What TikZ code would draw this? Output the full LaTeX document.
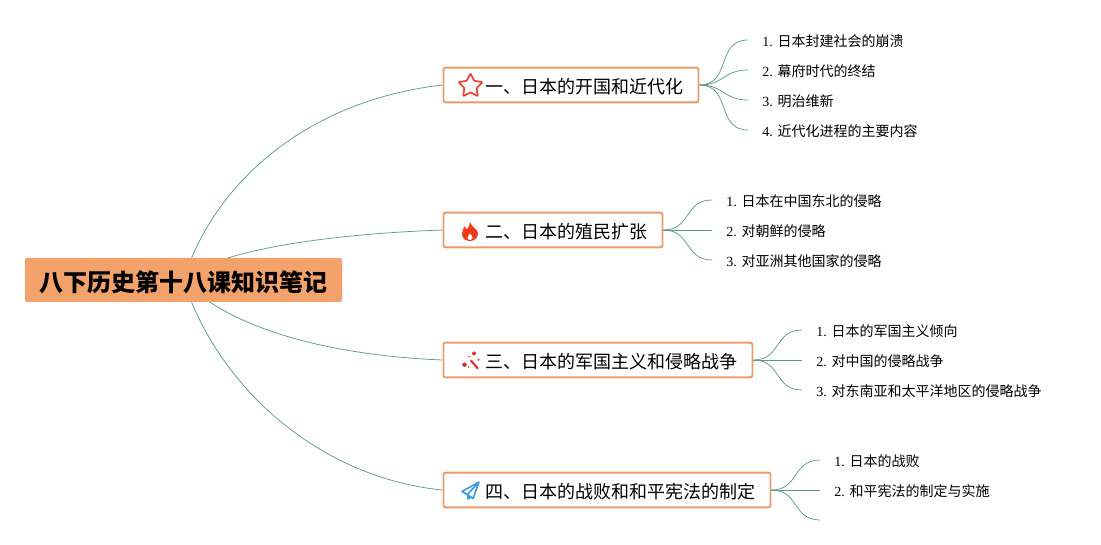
\documentclass[tikz,border=0pt]{standalone}
\usepackage{fontspec}
\setmainfont{Liberation Serif}
\newfontfamily\cjk{Noto Sans CJK SC}
\usetikzlibrary{arrows.meta, positioning, backgrounds, shapes.geometric}
\definecolor{myorange}{RGB}{244,162,107}
\definecolor{myborder}{RGB}{232,156,106}
\definecolor{mygreen}{RGB}{96,152,136}
\definecolor{myred}{RGB}{232,68,56}
\definecolor{myflame}{RGB}{240,58,23}
\definecolor{mywand}{RGB}{214,52,52}
\definecolor{myblue}{RGB}{61,155,220}
\newcommand{\titletext}[1]{\raisebox{-6.1pt}[0pt][0pt]{#1}}
\tikzset{
  rootbox/.style={fill=myorange, rounded corners=1.5pt, minimum width=237.75pt,
                  minimum height=33pt, inner sep=0pt, text height=20pt, text depth=2pt,
                  font=\cjk\bfseries\fontsize{18pt}{20pt}\selectfont},
  titlebox/.style={draw=myborder, fill=white, line width=1.4pt, rounded corners=1.5pt, anchor=west,
                   minimum height=26pt, inner xsep=11.25pt, inner ysep=0pt, align=right, text width=#1,
                   font=\cjk\fontsize{13.5pt}{16pt}\selectfont},
  leaf/.style={anchor=west, inner xsep=10.6pt, inner ysep=0pt, minimum height=14pt,
               text height=11.5pt, text depth=1.5pt, font=\fontsize{10.5pt}{12pt}\selectfont},
  branch/.style={draw=mygreen, line width=.55pt},
  fork/.style={draw=mygreen, line width=.55pt, out=0, in=180, looseness=1.25}
}
\begin{document}
\begin{tikzpicture}[x=.75pt, y=-.75pt]
  \useasboundingbox (0,0) rectangle (1101,545);
  \node[rootbox] (root) at (183.5,280) {八下历史第十八课知识笔记};

  \node[titlebox=168.75pt] (ta) at (442.5,85) {\titletext{一、日本的开国和近代化}};
  \node[titlebox=141.75pt] (tb) at (442.5,230) {\titletext{二、日本的殖民扩张}};
  \node[titlebox=209.25pt] (tc) at (442.5,360) {\titletext{三、日本的军国主义和侵略战争}};
  \node[titlebox=222.75pt] (td) at (442.5,490) {\titletext{四、日本的战败和和平宪法的制定}};

  \node[leaf] (a1) at (748,40) {1. {\cjk 日本封建社会的崩溃}};
  \node[leaf] (a2) at (748,70) {2. {\cjk 幕府时代的终结}};
  \node[leaf] (a3) at (748,100) {3. {\cjk 明治维新}};
  \node[leaf] (a4) at (748,130) {4. {\cjk 近代化进程的主要内容}};
  \node[leaf] (b1) at (712,200) {1. {\cjk 日本在中国东北的侵略}};
  \node[leaf] (b2) at (712,230) {2. {\cjk 对朝鲜的侵略}};
  \node[leaf] (b3) at (712,260) {3. {\cjk 对亚洲其他国家的侵略}};
  \node[leaf] (c1) at (802,330) {1. {\cjk 日本的军国主义倾向}};
  \node[leaf] (c2) at (802,360) {2. {\cjk 对中国的侵略战争}};
  \node[leaf] (c3) at (802,390) {3. {\cjk 对东南亚和太平洋地区的侵略战争}};
  \node[leaf] (d1) at (820,460) {1. {\cjk 日本的战败}};
  \node[leaf] (d2) at (820,490) {2. {\cjk 和平宪法的制定与实施}};
  \node[leaf] (d3) at (820,520) {};

  \begin{scope}[on background layer]
    \draw[branch] (root.center) .. controls (215,180) and (310,100) .. (ta.west);
    \draw[branch] (root.center) .. controls (215,250) and (330,234) .. (tb.west);
    \draw[branch] (root.center) .. controls (225,325) and (320,355) .. (tc.west);
    \draw[branch] (root.center) .. controls (218,388) and (320,478) .. (td.west);
  \end{scope}

  \foreach \leafname in {a1,a2,a3,a4} \draw[fork] (ta.east) to (\leafname.west);
  \foreach \leafname in {b1,b2,b3} \draw[fork] (tb.east) to (\leafname.west);
  \foreach \leafname in {c1,c2,c3} \draw[fork] (tc.east) to (\leafname.west);
  \foreach \leafname in {d1,d2,d3} \draw[fork] (td.east) to (\leafname.west);

  \node[star, star points=5, star point ratio=2, draw=myred, line width=1.3pt, rounded corners=.8pt,
        minimum size=19pt, inner sep=0pt] (iconstar) at (470.5,86) {};
  \fill[myflame] (470,222) .. controls (471,227) and (478,229) .. (478,233.5)
    .. controls (478,238) and (474,241) .. (470,241) .. controls (465,241) and (462,238) .. (462,233.5)
    .. controls (462,230) and (464,228) .. (465,226) .. controls (465.5,228) and (466,229) .. (467,229.5)
    .. controls (468.5,227) and (470,225) .. (470,222) -- cycle;
  \fill[white] (470,233.5) .. controls (470.5,235) and (472.5,236) .. (472.5,237.5)
    .. controls (472.5,239) and (471,240) .. (470,240) .. controls (469,240) and (467.5,239) .. (467.5,237.5)
    .. controls (467.5,236) and (469.5,235) .. (470,233.5) -- cycle;
  \draw[mywand, line width=1.6pt] (470.7,360.3) -- (478,368.7);
  \fill[mywand] (464.5,364.7) circle (2.3) (474,353.5) circle (2) (478.5,359.7) circle (1.1) (469,356.5) circle (.8) (468.5,367) circle (.8);
  \draw[myblue, line width=1.2pt, line join=round] (479,482) -- (462,491.5) -- (467.5,494.5) -- (473,498.5) -- cycle
    (479,482) -- (467.5,494.5) -- (468,499) -- (471,497);
\end{tikzpicture}
\end{document}
